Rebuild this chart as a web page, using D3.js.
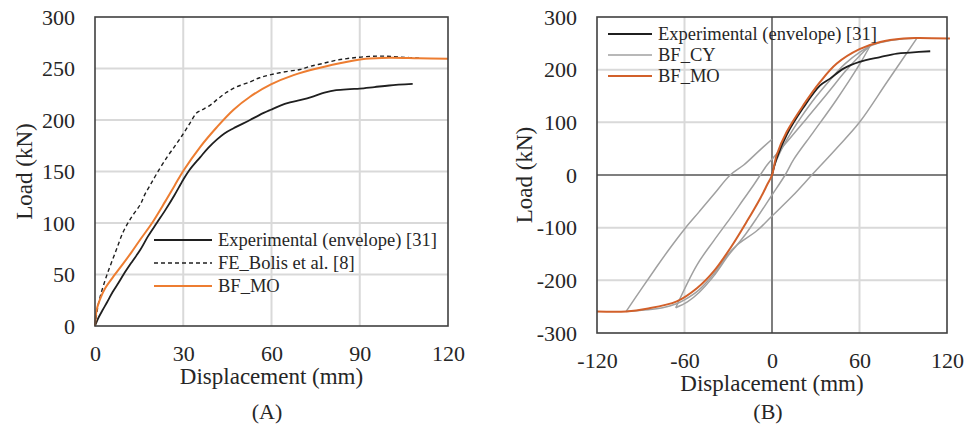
<!DOCTYPE html>
<html>
<head>
<meta charset="utf-8">
<script src="https://cdn.jsdelivr.net/npm/d3@7"></script>
<style>
  body { margin: 0; background: #fff; }
  svg text { font-family: "Liberation Serif", "Times New Roman", serif; fill: #262626; }
</style>
</head>
<body>
<svg id="chart" width="964" height="428"></svg>
<script>
// ---- panel (A): monotonic curves, [displacement mm, load kN]
var expA = [[0,0],[1,7],[2.5,15],[4.1,23],[6,33],[8,42],[9.7,50],[12.5,62],[15.4,74],[18,87],[21,100],
  [24,113],[27,127],[30,142],[32,151],[35.8,164],[38.5,173],[41.4,181],[44,187],[47.1,192],[52.7,200],
  [56,205],[59.8,210],[63,214],[66.3,217],[70,219.5],[74.3,223],[78,226.5],[82,229],[86.7,230],
  [90,230.5],[95,232],[100,233.5],[108,235]];
var feBolisA = [[0,0],[0.8,16],[1.8,29],[4.1,50],[7,72],[9.7,92],[12.5,106],[15.4,118],[17,128],[19,138],
  [21,148],[24.5,164],[27.5,176],[30.1,187],[32.5,198],[34.6,207],[36.5,210],[39.2,214.5],[42,221],
  [44.8,227],[48,232],[52.7,237],[56,241],[59.8,244],[65,247],[69.7,249],[73,252],[77.6,255],[82,258],
  [86.7,260],[92,261.5],[98,262],[104,261],[111,260]];
var bfMoA = [[0,0],[0.6,16],[2,28],[3.5,37],[6,47],[9.7,61],[12.5,72],[15.4,84],[19.4,100],[23.9,121],
  [27,136],[30.1,151],[35.8,174],[41.4,193],[47.1,210],[52.7,222.6],[59.8,234.6],[67.5,243.6],
  [75.4,250],[86.7,257],[92,259.5],[100,260.5],[110,260],[120,259.5]];

// ---- panel (B): envelope, monotonic and cyclic model
var expB = [[0,0],[3,30],[10,76],[21.5,128],[33,170],[39.8,183],[49,202],[60,214.8],[74.2,224],
  [85.7,230.5],[94.8,232.5],[108.5,235]];
var bfMoB = [[-120,-259],[-100,-259],[-85.9,-254],[-65.3,-240],[-51.5,-215],[-40,-183],[-28.6,-139],
  [-17.2,-88],[-8,-44],[-3.4,-19],[0,0],[3.2,38],[10.1,82],[21.5,132.6],[33,176.8],[44.4,211.7],
  [60,239],[74.2,252.6],[90.2,259],[99.4,260],[122,259]];
// BF_CY branches
var cyLoad1 = [[0,0],[2,20],[5,40],[10,66],[15,89],[20,110],[30,148],[40,181],[50,211],[60,233],[67,244]];
var cyUnload1 = [[67,244],[60,210],[44,142],[28,80],[15,30],[9,0],[0,-38],[-10,-80],[-18,-112],[-24,-133],
  [-30,-153],[-40,-192],[-50,-223],[-58,-241],[-66,-252]];
var cyReload1 = [[-66,-252],[-51.5,-171],[-40,-125],[-28.6,-82],[-20,-48],[-12.6,-19],[-3.4,19],[0,30],
  [10,62],[20,95],[30,128],[40,162],[50,196],[60,226],[67,244],[75,252],[85,257],[99.4,260]];
var cyUnload2 = [[99.4,260],[79,177],[60,100],[44,50],[27.3,0],[14,-40],[0,-78],[-10,-105],[-24,-133],
  [-30,-150],[-40,-188],[-50,-218],[-60,-237],[-66,-245],[-75,-252],[-85,-256],[-100,-259]];
var cyReload2 = [[-100,-259],[-90,-218],[-80,-178],[-70,-139],[-59.5,-101],[-50,-70],[-40,-37],
  [-28.6,0],[-19.4,19],[-10,43],[0,68]];

var xTicksA = [0, 30, 60, 90, 120];
var yTicksA = [0, 50, 100, 150, 200, 250, 300];
var xTicksB = [-120, -60, 0, 60, 120];
var yTicksB = [-300, -200, -100, 0, 100, 200, 300];

var svg = d3.select("#chart");

function drawPanel(p) {
  var x = d3.scaleLinear().domain(p.xDomain).range([p.left, p.right]);
  var y = d3.scaleLinear().domain(p.yDomain).range([p.bottom, p.top]);
  var g = svg.append("g");

  // grid
  g.selectAll(".vg").data(p.xTicks.slice(1, -1)).enter().append("line")
    .attr("x1", function(d) { return x(d); }).attr("x2", function(d) { return x(d); })
    .attr("y1", p.top).attr("y2", p.bottom)
    .attr("stroke", "#d9d9d9").attr("stroke-width", 2);
  g.selectAll(".hg").data(p.yTicks.slice(1, -1)).enter().append("line")
    .attr("y1", function(d) { return y(d); }).attr("y2", function(d) { return y(d); })
    .attr("x1", p.left).attr("x2", p.right)
    .attr("stroke", "#d9d9d9").attr("stroke-width", 2);

  if (p.zeroLines) {
    g.append("line").attr("x1", x(0)).attr("x2", x(0)).attr("y1", p.top).attr("y2", p.bottom)
      .attr("stroke", "#404040").attr("stroke-width", 1.2);
    g.append("line").attr("y1", y(0)).attr("y2", y(0)).attr("x1", p.left).attr("x2", p.right)
      .attr("stroke", "#262626").attr("stroke-width", 1.2);
  }

  // axes (labels only)
  var xAxis = d3.axisBottom(x).tickValues(p.xTicks).tickSize(0).tickPadding(19)
    .tickFormat(function(d) { return String(d); });
  var yAxis = d3.axisLeft(y).tickValues(p.yTicks).tickSize(0).tickPadding(20)
    .tickFormat(function(d) { return String(d); });
  var gx = g.append("g").attr("transform", "translate(0," + p.bottom + ")").call(xAxis);
  var gy = g.append("g").attr("transform", "translate(" + p.left + ",0)").call(yAxis);
  [gx, gy].forEach(function(a) {
    a.select(".domain").remove();
    a.selectAll("text").attr("font-size", 22).attr("font-family", null).attr("fill", "#262626");
  });

  // series
  var line = d3.line()
    .x(function(d) { return x(d[0]); })
    .y(function(d) { return y(d[1]); })
    .curve(d3.curveCatmullRom.alpha(0.5));
  p.series.forEach(function(s) {
    g.append("path").datum(s.data).attr("d", line)
      .attr("fill", "none").attr("stroke", s.color).attr("stroke-width", s.width)
      .attr("stroke-dasharray", s.dash || null)
      .attr("stroke-linejoin", "round");
  });

  // frame
  g.append("rect").attr("x", p.left).attr("y", p.top)
    .attr("width", p.right - p.left).attr("height", p.bottom - p.top)
    .attr("fill", "none").attr("stroke", "#404040").attr("stroke-width", 1.6);

  // titles
  g.append("text").attr("x", (p.left + p.right) / 2).attr("y", p.bottom + 58)
    .attr("text-anchor", "middle").attr("font-size", 23).text("Displacement (mm)");
  g.append("text").attr("transform", "translate(" + p.yTitleX + "," + ((p.top + p.bottom) / 2) + ") rotate(-90)")
    .attr("text-anchor", "middle").attr("dy", "0.35em").attr("font-size", 23).text("Load (kN)");
  g.append("text").attr("x", p.captionX).attr("y", 419)
    .attr("text-anchor", "middle").attr("font-size", 22).text(p.caption);

  // legend
  p.legend.forEach(function(l, i) {
    var ly = p.legendY + i * p.legendStep;
    g.append("line").attr("x1", p.legendX).attr("x2", p.legendX + p.legendLen)
      .attr("y1", ly).attr("y2", ly)
      .attr("stroke", l.color).attr("stroke-width", l.width).attr("stroke-dasharray", l.dash || null);
    g.append("text").attr("x", p.legendX + p.legendLen + 6).attr("y", ly).attr("dy", "0.35em")
      .attr("font-size", 18.5).text(l.label);
  });
}

var black = "#1f1f1f", orangeA = "#ED7D31", orangeB = "#D2602A", grey = "#A0A0A0";

drawPanel({
  left: 95, right: 448, top: 17, bottom: 326,
  xDomain: [0, 120], yDomain: [0, 300], xTicks: xTicksA, yTicks: yTicksA,
  yTitleX: 24, captionX: 267, caption: "(A)",
  series: [
    { data: expA, color: black, width: 1.8 },
    { data: feBolisA, color: black, width: 1.4, dash: "4,3" },
    { data: bfMoA, color: orangeA, width: 2 }
  ],
  legendX: 154, legendLen: 58, legendY: 240, legendStep: 23,
  legend: [
    { label: "Experimental (envelope) [31]", color: black, width: 1.8 },
    { label: "FE_Bolis et al. [8]", color: black, width: 1.4, dash: "4,3" },
    { label: "BF_MO", color: orangeA, width: 2 }
  ]
});

drawPanel({
  left: 597, right: 947, top: 17, bottom: 333, zeroLines: true,
  xDomain: [-120, 120], yDomain: [-300, 300], xTicks: xTicksB, yTicks: yTicksB,
  yTitleX: 524, captionX: 768, caption: "(B)",
  series: [
    { data: cyLoad1, color: grey, width: 1.5 },
    { data: cyUnload1, color: grey, width: 1.5 },
    { data: cyReload1, color: grey, width: 1.5 },
    { data: cyUnload2, color: grey, width: 1.5 },
    { data: cyReload2, color: grey, width: 1.5 },
    { data: expB, color: black, width: 1.8 },
    { data: bfMoB, color: orangeB, width: 2 }
  ],
  legendX: 608, legendLen: 44, legendY: 34, legendStep: 21,
  legend: [
    { label: "Experimental (envelope) [31]", color: black, width: 1.8 },
    { label: "BF_CY", color: grey, width: 1.5 },
    { label: "BF_MO", color: orangeB, width: 2 }
  ]
});
</script>
</body>
</html>
